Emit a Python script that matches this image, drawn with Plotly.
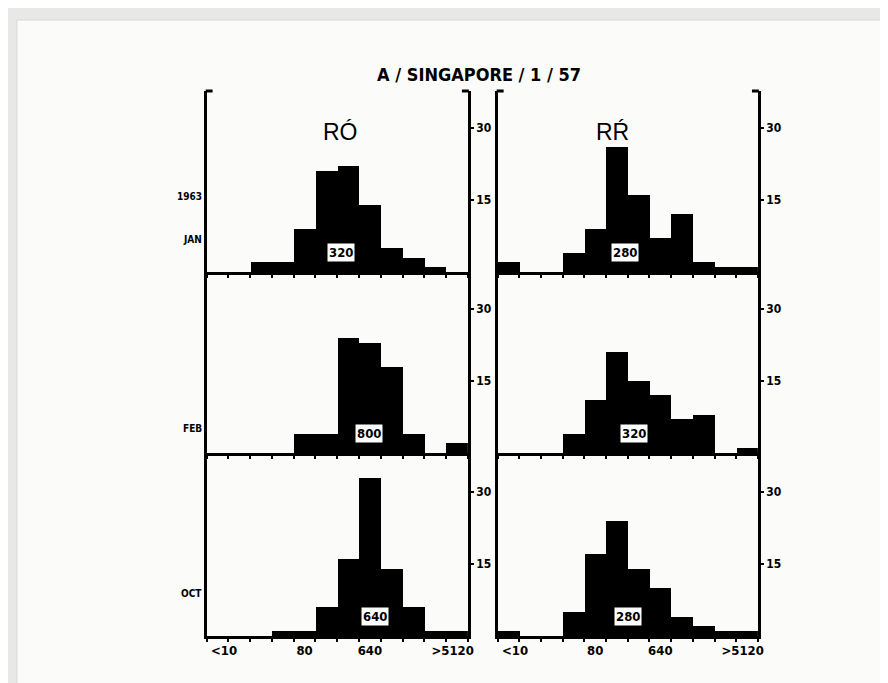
import plotly.graph_objects as go
import math

W, H = 888, 683

# ---------------- data ----------------
bins = ["<10", "10", "20", "40", "80", "160", "320", "640", "1280", "2560", "5120", ">5120"]
tick_labels = ["<10", "80", "640", ">5120"]
tick_bins = [0.3, 4, 7, 10.8]
months = ["JAN", "FEB", "OCT"]
year_label = "1963"
col_titles = ["RÓ", "RŔ"]
title = "A / SINGAPORE / 1 / 57"

ro_jan = [0, 0, 2, 2, 9, 21, 22, 14, 5, 3, 1, 0]
ro_feb = [0, 0, 0, 0, 4, 4, 24, 23, 18, 4, 0, 2]
ro_oct = [0, 0, 0, 1, 1, 6, 16, 33, 14, 6, 1, 1]
rr_jan = [2, 0, 0, 4, 9, 26, 16, 7, 12, 2, 1, 1]
rr_feb = [0, 0, 0, 4, 11, 21, 15, 12, 7, 8, 0, 1]
rr_oct = [1, 0, 0, 5, 17, 24, 14, 10, 4, 2, 1, 1]
ro_medians = [320, 800, 640]
rr_medians = [280, 320, 280]
y_ticks = [15, 30]

series = [[ro_jan, rr_jan], [ro_feb, rr_feb], [ro_oct, rr_oct]]
medians = [[ro_medians[i], rr_medians[i]] for i in range(3)]

# ---------------- layout geometry ----------------
col_px = [(200, 463), (493, 755)]
row_px = [(83, 264), (266, 445), (447, 628)]
label_shift = [[-0.35, -0.45], [-0.35, -0.2], [0.25, -0.3]]  # visual nudge of median boxes (bin units)
px_per_unit = 4.8
FONT = "Liberation Sans"
TFONT = "DejaVu Sans Condensed, Liberation Sans Narrow, Liberation Sans"


def fx(x):
    return x / W


def fy(y):
    return 1 - y / H


fig = go.Figure()
layout_axes = {}
annotations = []
shapes = []

idx = 0
for r in range(3):
    for c in range(2):
        idx += 1
        xa = "x" if idx == 1 else f"x{idx}"
        ya = "y" if idx == 1 else f"y{idx}"
        vals = series[r][c]
        fig.add_trace(go.Bar(
            x=list(range(len(bins))), y=vals, width=1,
            marker=dict(color="black", line=dict(width=0)),
            xaxis=xa, yaxis=ya, showlegend=False,
            hovertext=bins, hoverinfo="text+y",
        ))
        x0, x1 = col_px[c]
        y0, y1 = row_px[r]
        ytop = (y1 - y0) / px_per_unit
        xkey = "xaxis" if idx == 1 else f"xaxis{idx}"
        ykey = "yaxis" if idx == 1 else f"yaxis{idx}"
        bottom = (r == 2)
        layout_axes[xkey] = dict(
            domain=[fx(x0), fx(x1)], anchor=ya, range=[-0.5, len(bins) - 0.5],
            showgrid=False, zeroline=False, showline=True, linecolor="black", linewidth=3,
            tickmode="array", tickvals=tick_bins, ticktext=tick_labels,
            ticks="outside", ticklen=0, showticklabels=bottom,
            tickfont=dict(family=TFONT, size=13, color="black", weight="bold"),
            minor=dict(tick0=0.5, dtick=1, ticks="outside", ticklen=3, tickwidth=2, tickcolor="black"),
            fixedrange=True,
        )
        layout_axes[ykey] = dict(
            domain=[fy(y1), fy(y0)], anchor=xa, range=[0, ytop], side="right",
            showgrid=False, zeroline=False, showline=True, mirror=True,
            linecolor="black", linewidth=3,
            tickmode="array", tickvals=y_ticks, ticktext=[str(v) for v in y_ticks],
            ticks="outside", ticklen=3, tickwidth=2, tickcolor="black",
            tickfont=dict(family=TFONT, size=12, color="black", weight="bold"),
            fixedrange=True,
        )
        # median label
        m = medians[r][c]
        annotations.append(dict(
            x=1 + math.log2(m / 10) + label_shift[r][c], y=4, xref=xa, yref=ya,
            text=f"<b>{m}</b>", showarrow=False,
            font=dict(family=TFONT, size=13, color="black"),
            bgcolor="white", bordercolor="black", borderwidth=1.5, borderpad=1.5,
        ))

# top caps of vertical axis lines
for (x0, x1) in col_px:
    y0 = row_px[0][0]
    shapes.append(dict(type="line", xref="paper", yref="paper",
                       x0=fx(x0 - 1), x1=fx(x0 + 6), y0=fy(y0), y1=fy(y0),
                       line=dict(color="black", width=3)))
    shapes.append(dict(type="line", xref="paper", yref="paper",
                       x0=fx(x1 - 6), x1=fx(x1 + 1), y0=fy(y0), y1=fy(y0),
                       line=dict(color="black", width=3)))

# background sheet
shapes.insert(0, dict(type="rect", xref="paper", yref="paper", layer="below",
                      x0=fx(9), x1=fx(882), y0=fy(683), y1=fy(12),
                      fillcolor="#fbfbfa", line=dict(color="#d8d8d8", width=1)))

# title
annotations.append(dict(x=fx(474), y=fy(54), xref="paper", yref="paper",
                        text=f"<b>{title}</b>", showarrow=False,
                        font=dict(family=TFONT, size=18, color="black")))
# column headers
for c, xc in enumerate([335, 627]):
    annotations.append(dict(x=fx(xc), y=fy(109), xref="paper", yref="paper",
                            text=col_titles[c], showarrow=False,
                            font=dict(family=FONT, size=23, color="black")))
# row labels
annotations.append(dict(x=fx(197), y=fy(181), xref="paper", yref="paper", xanchor="right",
                        text=f"<b>{year_label}</b>", showarrow=False,
                        font=dict(family=TFONT, size=10, color="black")))
for m, ypx in zip(months, [231, 420, 593]):
    annotations.append(dict(x=fx(197), y=fy(ypx), xref="paper", yref="paper", xanchor="right",
                            text=f"<b>{m}</b>", showarrow=False,
                            font=dict(family=TFONT, size=10, color="black")))

fig.update_layout(
    width=W, height=H, margin=dict(l=0, r=0, t=0, b=0),
    paper_bgcolor="#e8e8e6", plot_bgcolor="rgba(0,0,0,0)",
    bargap=0, annotations=annotations, shapes=shapes,
    **layout_axes,
)

fig.write_html("out.html")
